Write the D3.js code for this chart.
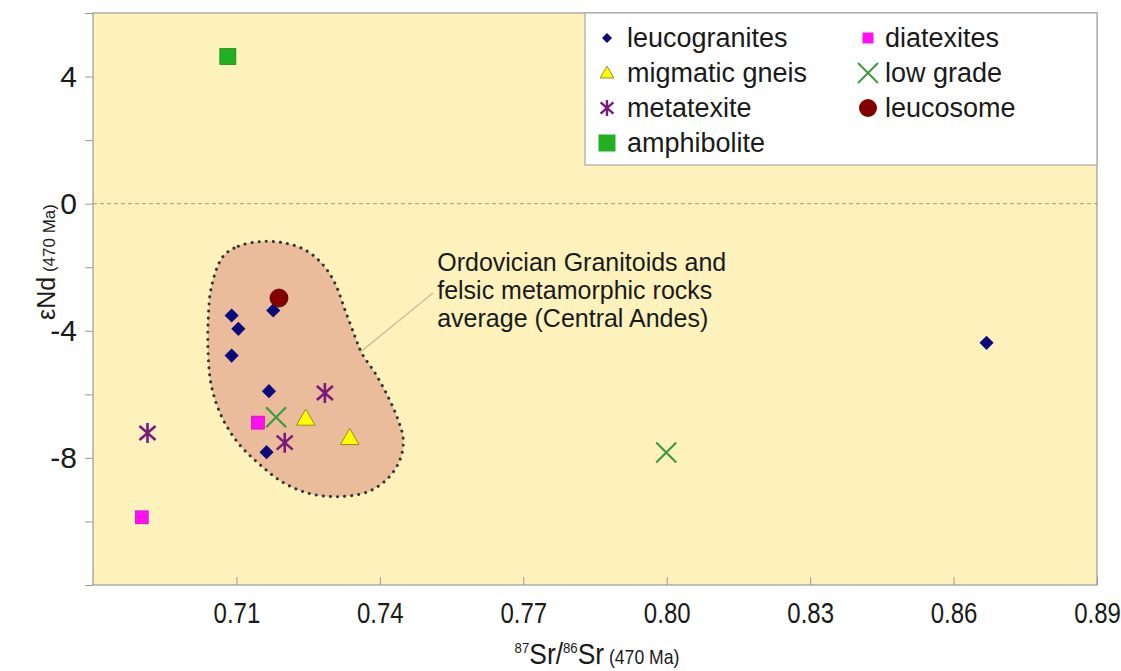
<!DOCTYPE html>
<html>
<head>
<meta charset="utf-8">
<script src="https://cdn.jsdelivr.net/npm/d3@7"></script>
<style>
  body { margin: 0; background: #fff; }
  text { font-family: Arial, "Liberation Sans", sans-serif; fill: #1a1a1a; }
</style>
</head>
<body>
<svg id="chart" width="1121" height="671"></svg>
<script>
// values: [87Sr/86Sr, eNd]
const leucogranites = [[0.7090, -3.52], [0.7104, -3.94], [0.7090, -4.78], [0.7177, -3.36], [0.7168, -5.90], [0.7163, -7.82], [0.8669, -4.38]];
const diatexites = [[0.7145, -6.89], [0.6902, -9.87]];
const migmaticGneis = [[0.7245, -6.77], [0.7337, -7.38]];
const lowGrade = [[0.7183, -6.72], [0.7999, -7.83]];
const metatexite = [[0.7285, -5.96], [0.7201, -7.52], [0.6914, -7.22]];
const leucosome = [[0.7189, -2.97]];
const amphibolite = [[0.7082, 4.63]];

// outline of the Central Andes field
const andesField = [
  [0.7072, -1.66], [0.7104, -1.34], [0.7153, -1.19], [0.7201, -1.24], [0.7243, -1.45],
  [0.7278, -1.87], [0.7306, -2.50], [0.7327, -3.34], [0.7348, -4.18], [0.7362, -4.70],
  [0.7390, -5.33], [0.7417, -6.07], [0.7438, -6.80], [0.7449, -7.43], [0.7442, -8.06],
  [0.7417, -8.64], [0.7376, -9.06], [0.7313, -9.22], [0.7250, -9.11], [0.7195, -8.75],
  [0.7146, -8.17], [0.7104, -7.54], [0.7069, -6.70], [0.7048, -5.76], [0.7041, -4.79],
  [0.7041, -3.65], [0.7048, -2.60]
];
const fieldLabel = ["Ordovician Granitoids and", "felsic metamorphic rocks", "average (Central Andes)"];
const leader = [[0.7361, -4.65], [0.7511, -2.81]];
const labelAnchor = [0.7520, -2.12];

const xTicks = [0.71, 0.74, 0.77, 0.80, 0.83, 0.86, 0.89];
const yTicks = [-12, -10, -8, -6, -4, -2, 0, 2, 4, 6];
const yLabelled = [4, 0, -4, -8];

const svg = d3.select("#chart");
const margin = { top: 13, right: 24, bottom: 86, left: 93 };
const width = 1121 - margin.left - margin.right;
const height = 671 - margin.top - margin.bottom;

const x = d3.scaleLinear().domain([0.68, 0.89]).range([0, width]);
const y = d3.scaleLinear().domain([-12, 6]).range([height, 0]);

const g = svg.append("g").attr("transform", "translate(" + margin.left + "," + margin.top + ")");

g.append("rect")
  .attr("width", width).attr("height", height)
  .attr("fill", "#fdf2bc");

// zero line
g.append("line")
  .attr("x1", 0).attr("x2", width)
  .attr("y1", y(0)).attr("y2", y(0))
  .attr("stroke", "#a89a78").attr("stroke-width", 1)
  .attr("stroke-dasharray", "4,3");

// Central Andes field
g.append("path")
  .datum(andesField)
  .attr("d", d3.line().x(d => x(d[0])).y(d => y(d[1])).curve(d3.curveCatmullRomClosed))
  .attr("fill", "#ebbc9b")
  .attr("stroke", "#333")
  .attr("stroke-width", 3)
  .attr("stroke-linecap", "round")
  .attr("stroke-dasharray", "0.1,7");

g.append("line")
  .attr("x1", x(leader[0][0])).attr("y1", y(leader[0][1]))
  .attr("x2", x(leader[1][0])).attr("y2", y(leader[1][1]))
  .attr("stroke", "#c9c2a0").attr("stroke-width", 1.5);

g.append("text")
  .attr("x", x(labelAnchor[0])).attr("y", y(labelAnchor[1]))
  .style("font-size", "25px")
  .selectAll("tspan").data(fieldLabel).join("tspan")
  .attr("x", x(labelAnchor[0]))
  .attr("dy", (d, i) => i === 0 ? 0 : 28)
  .text(d => d);

// axes
const yAxis = g.append("g")
  .call(d3.axisLeft(y).tickValues(yTicks).tickSize(8).tickPadding(8)
    .tickFormat(d => yLabelled.includes(d) ? d : ""));
yAxis.selectAll("text").style("font-size", "30px").attr("fill", "#1a1a1a");

const xAxis = g.append("g")
  .attr("transform", "translate(0," + height + ")")
  .call(d3.axisBottom(x).tickValues(xTicks).tickSizeInner(-8).tickSizeOuter(0).tickPadding(17)
    .tickFormat(d3.format(".2f")));
xAxis.selectAll("text")
  .style("font-size", "30px").attr("fill", "#1a1a1a")
  .attr("transform", "scale(0.8,1)");

svg.selectAll(".domain").remove();
svg.selectAll(".tick line").attr("stroke", "#9a9a9a");

g.append("rect")
  .attr("width", width).attr("height", height)
  .attr("fill", "none").attr("stroke", "#9a9a9a").attr("stroke-width", 1.2);

// markers
const crossPath = s => "M" + (-s) + "," + (-s) + "L" + s + "," + s + "M" + (-s) + "," + s + "L" + s + "," + (-s);
const starPath = s => {
  const a = s * 0.8, b = s * 0.7;
  return "M0," + (-s) + "L0," + s + "M" + (-a) + "," + (-b) + "L" + a + "," + b + "M" + (-a) + "," + b + "L" + a + "," + (-b);
};

const series = [
  { name: "leucogranites", data: leucogranites, draw: sel => sel.append("path").attr("d", d3.symbol(d3.symbolSquare, 100)()).attr("transform", "rotate(45)").attr("fill", "#0a0a7a") },
  { name: "diatexites", data: diatexites, draw: sel => sel.append("rect").attr("x", -6.5).attr("y", -6.5).attr("width", 13).attr("height", 13).attr("fill", "#ff10f0").attr("stroke", "#c000c0").attr("stroke-width", 0.6) },
  { name: "migmatic gneis", data: migmaticGneis, draw: sel => sel.append("path").attr("d", d3.symbol(d3.symbolTriangle, 150)()).attr("transform", "translate(0,1)").attr("fill", "#ffff00").attr("stroke", "#9a8a20").attr("stroke-width", 1) },
  { name: "low grade", data: lowGrade, draw: sel => sel.append("path").attr("d", crossPath(10)).attr("stroke", "#3f9a3f").attr("stroke-width", 2.2).attr("fill", "none") },
  { name: "metatexite", data: metatexite, draw: sel => sel.append("path").attr("d", starPath(10)).attr("stroke", "#7a1a7a").attr("stroke-width", 2.6).attr("fill", "none") },
  { name: "leucosome", data: leucosome, draw: sel => sel.append("circle").attr("r", 9).attr("fill", "#820000").attr("stroke", "#5a0000").attr("stroke-width", 0.8) },
  { name: "amphibolite", data: amphibolite, draw: sel => sel.append("rect").attr("x", -8).attr("y", -8).attr("width", 16).attr("height", 16).attr("fill", "#21b021").attr("stroke", "#1a8a1a").attr("stroke-width", 0.8) }
];

series.forEach(s => {
  g.selectAll(null).data(s.data).join("g")
    .attr("transform", d => "translate(" + x(d[0]) + "," + y(d[1]) + ")")
    .each(function () { s.draw(d3.select(this)); });
});

// legend
const legend = svg.append("g").attr("transform", "translate(585,13)");
legend.append("rect")
  .attr("width", 512).attr("height", 152)
  .attr("fill", "#fff").attr("stroke", "#a8a8a8").attr("stroke-width", 1.2);

const legendMarkers = {
  "leucogranites": sel => sel.append("path").attr("d", d3.symbol(d3.symbolSquare, 50)()).attr("transform", "rotate(45)").attr("fill", "#0a0a7a"),
  "diatexites": sel => sel.append("rect").attr("x", -5.5).attr("y", -5.5).attr("width", 11).attr("height", 11).attr("fill", "#ff10f0"),
  "migmatic gneis": sel => sel.append("path").attr("d", d3.symbol(d3.symbolTriangle, 80)()).attr("transform", "translate(0,1)").attr("fill", "#ffff00").attr("stroke", "#9a8a20").attr("stroke-width", 1),
  "low grade": sel => sel.append("path").attr("d", crossPath(10)).attr("stroke", "#3f9a3f").attr("stroke-width", 2).attr("fill", "none"),
  "metatexite": sel => sel.append("path").attr("d", starPath(8)).attr("stroke", "#7a1a7a").attr("stroke-width", 2.4).attr("fill", "none"),
  "leucosome": sel => sel.append("circle").attr("r", 9).attr("fill", "#820000"),
  "amphibolite": sel => sel.append("rect").attr("x", -8.5).attr("y", -8.5).attr("width", 17).attr("height", 17).attr("fill", "#21b021")
};
const legendOrder = ["leucogranites", "diatexites", "migmatic gneis", "low grade", "metatexite", "leucosome", "amphibolite"];

legendOrder.forEach((name, i) => {
  const col = i % 2, row = Math.floor(i / 2);
  const item = legend.append("g").attr("transform", "translate(" + (col === 0 ? 22 : 283) + "," + (25 + row * 35) + ")");
  legendMarkers[name](item);
  item.append("text")
    .attr("x", col === 0 ? 20 : 17).attr("y", 0).attr("dy", "0.35em")
    .style("font-size", "27px")
    .text(name);
});

// axis titles
const yTitle = svg.append("text")
  .attr("transform", "translate(55,262) rotate(-90)")
  .attr("text-anchor", "middle");
yTitle.append("tspan").style("font-size", "25px").text("εNd");
yTitle.append("tspan").style("font-size", "17px").text(" (470 Ma)");

const xTitle = svg.append("text")
  .attr("transform", "translate(597,664) scale(0.88,1)")
  .attr("text-anchor", "middle");
xTitle.append("tspan").style("font-size", "15px").attr("dy", "-11").text("87");
xTitle.append("tspan").style("font-size", "30px").attr("dy", "11").text("Sr/");
xTitle.append("tspan").style("font-size", "15px").attr("dy", "-11").text("86");
xTitle.append("tspan").style("font-size", "30px").attr("dy", "11").text("Sr");
xTitle.append("tspan").style("font-size", "20px").text(" (470 Ma)");
</script>
</body>
</html>
